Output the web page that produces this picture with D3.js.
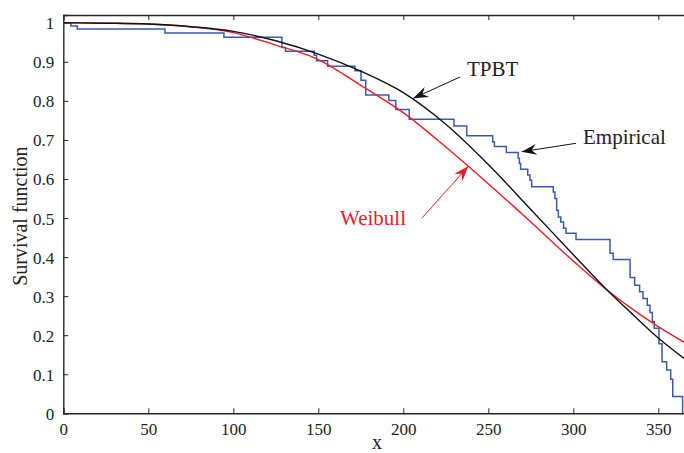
<!DOCTYPE html>
<html>
<head>
<meta charset="utf-8">
<script src="https://cdn.jsdelivr.net/npm/d3@7"></script>
<style>
  html, body { margin: 0; padding: 0; background: #fff; }
  svg { display: block; }
</style>
</head>
<body>
<svg id="chart" width="684" height="453"></svg>
<script>
// ---- data ----
const xTicks = [0, 50, 100, 150, 200, 250, 300, 350];
const yTicks = [0, 0.1, 0.2, 0.3, 0.4, 0.5, 0.6, 0.7, 0.8, 0.9, 1];
const yTickLabels = ["0", "0.1", "0.2", "0.3", "0.4", "0.5", "0.6", "0.7", "0.8", "0.9", "1"];

// Empirical survival function (step after each x)
const empX = [0, 4.5, 8.2, 59.8, 94.5, 128.6, 130.7, 147.6, 149.0, 155.5, 171.6, 175.1, 177.9,
  191.5, 195.6, 203.5, 229.8, 237.3, 252.6, 253.6, 260.6, 267.6, 268.3, 269.0, 273.2, 274.5,
  275.5, 288.2, 289.2, 290.2, 291.2, 292.6, 294.3, 295.7, 301.6, 321.6, 323.5, 333.4, 336.1,
  339.0, 341.0, 343.5, 345.1, 346.5, 347.6, 350.4, 352.2, 354.9, 357.3, 358.5, 364.3];
const empY = [1, 0.992, 0.984, 0.974, 0.963, 0.937, 0.927, 0.917, 0.903, 0.889, 0.877, 0.853, 0.815,
  0.801, 0.778, 0.753, 0.736, 0.711, 0.695, 0.683, 0.668, 0.653, 0.640, 0.625, 0.610, 0.597,
  0.580, 0.567, 0.550, 0.520, 0.503, 0.490, 0.474, 0.461, 0.445, 0.410, 0.394, 0.348, 0.328,
  0.311, 0.294, 0.277, 0.258, 0.235, 0.218, 0.178, 0.132, 0.111, 0.087, 0.043, 0];

// Fitted curves
const curveX    = [0, 25, 50, 75, 100, 125, 150, 175, 200, 225, 250, 275, 300, 320, 335, 350, 366];
const tpbtY     = [1, 0.999, 0.997, 0.990, 0.978, 0.954, 0.920, 0.876, 0.821, 0.740, 0.637, 0.522, 0.406, 0.315, 0.253, 0.193, 0.138];
const weibullY  = [1, 0.999, 0.997, 0.990, 0.975, 0.943, 0.906, 0.840, 0.770, 0.682, 0.588, 0.490, 0.390, 0.315, 0.266, 0.222, 0.180];

// ---- layout ----
const FONT = '"Liberation Serif", "Times New Roman", Times, "DejaVu Serif", serif';
const svg = d3.select("#chart").attr("font-family", FONT);
const mLeft = 63.3, mRight = 685.5, mTop = 15, mBottom = 413.3;
const x = d3.scaleLinear().domain([0, 366]).range([mLeft, mRight]);
const y = d3.scaleLinear().domain([0, 1.02]).range([mBottom, mTop]);
const axisColor = "#262626";

svg.append("defs").append("clipPath").attr("id", "clip")
  .append("rect").attr("x", mLeft).attr("y", mTop).attr("width", mRight - mLeft).attr("height", mBottom - mTop);

// ticks inward on all sides (box style)
const gAxes = svg.append("g");
const xb = gAxes.append("g").attr("transform", `translate(0,${mBottom})`)
  .call(d3.axisBottom(x).tickValues(xTicks).tickSize(-5).tickPadding(10).tickFormat(d3.format("d")));
const xt = gAxes.append("g").attr("transform", `translate(0,${mTop})`)
  .call(d3.axisTop(x).tickValues(xTicks).tickSize(-5).tickFormat(""));
const yl = gAxes.append("g").attr("transform", `translate(${mLeft},0)`)
  .call(d3.axisLeft(y).tickValues(yTicks).tickSize(-5).tickPadding(9).tickFormat((d, i) => yTickLabels[i]));

[xb, xt, yl].forEach(g => {
  g.attr("font-family", FONT).attr("font-size", 17);
  g.select(".domain").attr("stroke", axisColor).attr("stroke-width", 1.4);
  g.selectAll(".tick line").attr("stroke", axisColor).attr("stroke-width", 1);
  g.selectAll("text").attr("fill", "#222").attr("font-family", FONT).attr("font-size", 17);
});
xb.selectAll("text").attr("dy", "0.71em");
yl.selectAll("text").attr("dy", "0.35em");

// ---- lines ----
const plot = svg.append("g").attr("clip-path", "url(#clip)");
const emp = empX.map((v, i) => [v, empY[i]]);
const tp = curveX.map((v, i) => [v, tpbtY[i]]);
const wb = curveX.map((v, i) => [v, weibullY[i]]);

plot.append("path").datum(emp)
  .attr("d", d3.line().x(d => x(d[0])).y(d => y(d[1])).curve(d3.curveStepAfter))
  .attr("fill", "none").attr("stroke", "#3a5aae").attr("stroke-width", 1.5);
plot.append("path").datum(wb)
  .attr("d", d3.line().x(d => x(d[0])).y(d => y(d[1])).curve(d3.curveMonotoneX))
  .attr("fill", "none").attr("stroke", "#f01c22").attr("stroke-width", 1.4);
plot.append("path").datum(tp)
  .attr("d", d3.line().x(d => x(d[0])).y(d => y(d[1])).curve(d3.curveMonotoneX))
  .attr("fill", "none").attr("stroke", "#111").attr("stroke-width", 1.4);

// ---- annotations ----
function arrow(x1, y1, x2, y2, color) {
  svg.append("line").attr("x1", x1).attr("y1", y1).attr("x2", x2).attr("y2", y2)
    .attr("stroke", color).attr("stroke-width", 1);
  const ang = Math.atan2(y2 - y1, x2 - x1);
  const L = 15, W = 5.5, N = 10;
  const ux = Math.cos(ang), uy = Math.sin(ang), px = -uy, py = ux;
  const p = [
    [x2, y2],
    [x2 - L * ux + W * px, y2 - L * uy + W * py],
    [x2 - N * ux, y2 - N * uy],
    [x2 - L * ux - W * px, y2 - L * uy - W * py]
  ];
  svg.append("path").attr("d", "M" + p.map(q => q.join(",")).join("L") + "Z").attr("fill", color);
}
arrow(460, 77, 413.3, 98.3, "#111");
arrow(576, 143.3, 521.7, 151.7, "#111");
arrow(421.7, 218.3, 468.3, 166.3, "#f01c22");

const ann = svg.append("g").attr("font-family", FONT).attr("font-size", 21);
ann.append("text").attr("x", 467).attr("y", 76).attr("fill", "#222").text("TPBT");
ann.append("text").attr("x", 583).attr("y", 144).attr("fill", "#222").text("Empirical");
ann.append("text").attr("x", 340).attr("y", 225).attr("fill", "#f01c22").text("Weibull");

// axis labels
svg.append("text").attr("x", 377).attr("y", 449).attr("text-anchor", "middle")
  .attr("fill", "#222").attr("font-family", FONT).attr("font-size", 20).text("x");
svg.append("text").attr("transform", `translate(27,${(mTop + mBottom) / 2 + 2}) rotate(-90)`)
  .attr("text-anchor", "middle").attr("fill", "#222").attr("font-family", FONT).attr("font-size", 20)
  .text("Survival function");
</script>
</body>
</html>
